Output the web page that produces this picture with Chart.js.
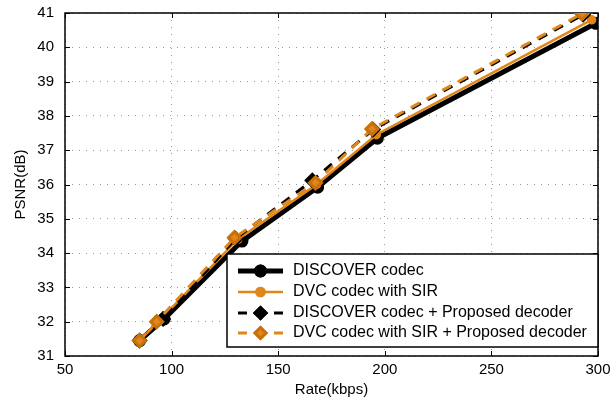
<!DOCTYPE html>
<html>
<head>
<meta charset="utf-8">
<script src="https://cdn.jsdelivr.net/npm/chart.js@4.4.0/dist/chart.umd.min.js"></script>
<style>
  html, body { margin: 0; padding: 0; background: #fff; }
  #wrap { width: 613px; height: 403px; }
</style>
</head>
<body>
<div id="wrap"><canvas id="psnrChart" width="613" height="403"></canvas></div>
<script>
// data
const xTicks = [50, 100, 150, 200, 250, 300];
const yTicks = [31, 32, 33, 34, 35, 36, 37, 38, 39, 40, 41];

const discoverRate = [85, 96.5, 133, 168.5, 196.5, 299];
const discoverPsnr = [31.45, 32.08, 34.35, 35.92, 37.35, 40.7];

const sirRate = [85, 94, 131, 168, 196, 297];
const sirPsnr = [31.45, 32.02, 34.4, 36.0, 37.45, 40.8];

const discoverPropRate = [85, 96, 130, 166, 194.5, 293];
const discoverPropPsnr = [31.45, 32.08, 34.42, 36.12, 37.6, 40.95];

const sirPropRate = [85, 93, 129.5, 167.5, 194, 292.5];
const sirPropPsnr = [31.45, 32.0, 34.45, 36.05, 37.62, 40.98];

const seriesNames = [
  'DISCOVER codec',
  'DVC codec with SIR',
  'DISCOVER codec + Proposed decoder',
  'DVC codec with SIR + Proposed decoder'
];

const ORANGE = '#e0861a';
const FONT = 'Arial, "Liberation Sans", sans-serif';

function pts(xs, ys) {
  return xs.map((x, i) => ({ x: x, y: ys[i] }));
}

// frame around the plot + inward tick marks
const framePlugin = {
  id: 'frame',
  beforeDatasetsDraw(chart) {
    const { ctx, chartArea: a, scales } = chart;
    ctx.save();
    ctx.strokeStyle = '#000';
    ctx.lineWidth = 1;
    ctx.beginPath();
    xTicks.forEach(v => {
      const px = Math.round(scales.x.getPixelForValue(v)) + 0.5;
      ctx.moveTo(px, a.bottom); ctx.lineTo(px, a.bottom - 5);
      ctx.moveTo(px, a.top); ctx.lineTo(px, a.top + 5);
    });
    yTicks.forEach(v => {
      const py = Math.round(scales.y.getPixelForValue(v)) + 0.5;
      ctx.moveTo(a.left, py); ctx.lineTo(a.left + 5, py);
      ctx.moveTo(a.right, py); ctx.lineTo(a.right - 5, py);
    });
    ctx.stroke();
    ctx.lineWidth = 1.5;
    ctx.strokeRect(a.left, a.top, a.right - a.left, a.bottom - a.top);
    ctx.restore();
  }
};

// legend box inside the plot, lower right
const legendPlugin = {
  id: 'insideLegend',
  afterDatasetsDraw(chart) {
    const { ctx, chartArea: a } = chart;
    const boxL = 227, boxT = 254, boxR = a.right, boxB = 347;
    ctx.save();
    ctx.fillStyle = '#fff';
    ctx.fillRect(boxL, boxT, boxR - boxL, boxB - boxT);
    ctx.strokeStyle = '#000';
    ctx.lineWidth = 1.5;
    ctx.strokeRect(boxL, boxT, boxR - boxL, boxB - boxT);

    const rows = [271, 292, 313, 333];
    const x1 = 238, x2 = 283, xm = (x1 + x2) / 2;
    chart.data.datasets.forEach((ds, i) => {
      const y = rows[i];
      ctx.strokeStyle = ds.borderColor;
      ctx.lineWidth = ds.borderWidth;
      ctx.setLineDash([]);
      ctx.beginPath();
      if (ds.borderDash) {
        ctx.moveTo(x1, y); ctx.lineTo(x1 + 9, y);
        ctx.moveTo(x2 - 9, y); ctx.lineTo(x2, y);
      } else {
        ctx.moveTo(x1, y); ctx.lineTo(x2, y);
      }
      ctx.stroke();
      Chart.helpers.drawPoint(ctx, {
        pointStyle: ds.pointStyle,
        radius: ds.pointStyle === 'circle' ? 4 : 5.5,
        rotation: 0,
        borderWidth: 1
      }, xm, y);
      ctx.fillStyle = ds.pointBackgroundColor;
      ctx.strokeStyle = ds.pointBorderColor;
      ctx.fill();
      ctx.stroke();

      ctx.fillStyle = '#000';
      ctx.font = '16px ' + FONT;
      ctx.textBaseline = 'middle';
      ctx.textAlign = 'left';
      ctx.fillText(ds.label, 293, y);
    });
    ctx.restore();
  }
};

new Chart(document.getElementById('psnrChart'), {
  type: 'line',
  data: {
    datasets: [
      {
        label: seriesNames[0],
        data: pts(discoverRate, discoverPsnr),
        borderColor: '#000',
        borderWidth: 5,
        pointStyle: 'circle',
        pointRadius: 4,
        pointBackgroundColor: '#000',
        pointBorderColor: '#000',
        order: 4
      },
      {
        label: seriesNames[1],
        data: pts(sirRate, sirPsnr),
        borderColor: ORANGE,
        borderWidth: 2.5,
        pointStyle: 'circle',
        pointRadius: 3.5,
        pointBackgroundColor: ORANGE,
        pointBorderColor: ORANGE,
        order: 3
      },
      {
        label: seriesNames[2],
        data: pts(discoverPropRate, discoverPropPsnr),
        borderColor: '#000',
        borderWidth: 3,
        borderDash: [10, 8],
        pointStyle: 'rectRot',
        pointRadius: 6,
        pointBackgroundColor: '#000',
        pointBorderColor: '#000',
        order: 2
      },
      {
        label: seriesNames[3],
        data: pts(sirPropRate, sirPropPsnr),
        borderColor: ORANGE,
        borderWidth: 3,
        borderDash: [10, 8],
        pointStyle: 'rectRot',
        pointRadius: 6,
        pointBackgroundColor: ORANGE,
        pointBorderColor: '#c8700c',
        order: 1
      }
    ]
  },
  options: {
    responsive: false,
    animation: false,
    tension: 0,
    layout: { padding: { top: 13, right: 15, left: 0, bottom: 0 } },
    plugins: {
      legend: { display: false },
      tooltip: { enabled: false }
    },
    scales: {
      x: {
        type: 'linear',
        min: 50,
        max: 300,
        afterFit(scale) {
          scale.height = 47;
          scale.paddingLeft = 0;
          scale.paddingRight = 0;
        },
        afterBuildTicks(scale) { scale.ticks = xTicks.map(v => ({ value: v })); },
        ticks: { color: '#000', font: { size: 15, family: FONT }, padding: 5 },
        grid: { color: '#999', drawTicks: false, lineWidth: 1 },
        border: { display: false, dash: [1, 6] },
        title: {
          display: true,
          text: 'Rate(kbps)',
          color: '#000',
          font: { size: 15, family: FONT },
          padding: { top: 0, bottom: 4 }
        }
      },
      y: {
        type: 'linear',
        min: 31,
        max: 41,
        afterFit(scale) {
          scale.width = 65;
          scale.paddingTop = 0;
          scale.paddingBottom = 0;
        },
        afterBuildTicks(scale) { scale.ticks = yTicks.map(v => ({ value: v })); },
        ticks: { color: '#000', font: { size: 15, family: FONT }, padding: 11 },
        grid: { color: '#999', drawTicks: false, lineWidth: 1 },
        border: { display: false, dash: [1, 6] },
        title: {
          display: true,
          text: 'PSNR(dB)',
          color: '#000',
          font: { size: 15, family: FONT },
          padding: { top: 12, bottom: 0 }
        }
      }
    }
  },
  plugins: [framePlugin, legendPlugin]
});
</script>
</body>
</html>
